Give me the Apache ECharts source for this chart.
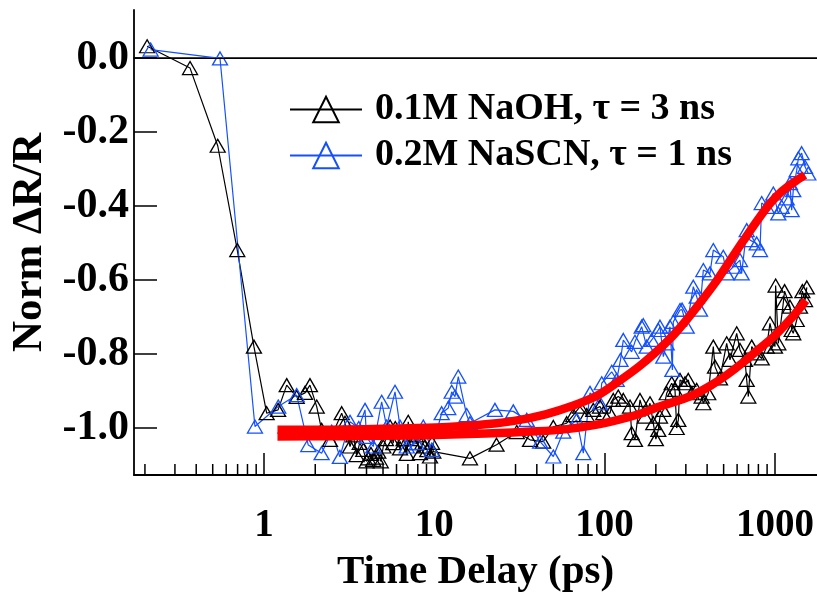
<!DOCTYPE html>
<html>
<head>
<meta charset="utf-8">
<script src="https://cdn.jsdelivr.net/npm/echarts@6/dist/echarts.min.js"></script>
<style>
  html, body { margin: 0; padding: 0; background: #ffffff; }
  #chart { width: 817px; height: 592px; }
</style>
</head>
<body>
<div id="chart"></div>
<script>
// Normalised reflectance transients: delay (ps) and ΔR/R for each solution.
const naohTime = [
  0.206, 0.368, 0.535, 0.697, 0.873, 1.037, 1.21, 1.36, 1.556, 1.741, 1.862, 2.04, 2.18, 2.44,
  2.86, 2.99, 3.2, 3.35, 3.5, 3.65, 3.83, 4.0, 4.1, 4.25, 4.38, 4.55, 4.69, 4.85, 5.02, 5.2,
  5.5, 5.74, 5.9, 6.29, 6.6, 6.9, 7.03, 7.3, 7.53, 7.8, 8.24, 8.5, 8.82, 9.1, 9.44, 9.7, 9.87,
  16.2, 23.2, 30.5, 36.5, 43.6, 50, 59.9, 65.5, 71.7, 78.5, 85.8, 94, 98.3, 107.6, 112.5,
  120.3, 128.8, 141, 144.2, 150.8, 161.4, 172.7, 184.8, 193.2, 200, 206.7, 211.5, 221.2,
  231.6, 247.8, 259.1, 265, 271, 277.3, 296.6, 310, 324.8, 347.5, 371.6, 380, 406, 434.9,
  444.9, 476, 521, 544.9, 596.6, 623.7, 667.5, 683, 698.2, 730.9, 782, 836.6, 895, 935.7,
  1001, 1010, 1047, 1120, 1140, 1226, 1255, 1282, 1343, 1404, 1450, 1503, 1540
];
const naohValue = [
  0.032, -0.027, -0.237, -0.519, -0.78, -0.96, -0.951, -0.884, -0.916, -0.905, -0.884, -0.942, -1.005, -1.032,
  -0.96, -0.986, -1.05, -1.02, -1.073, -1.04, -1.059, -1.09, -1.082, -1.07, -1.086, -1.08, -1.064, -1.09, -1.05, -1.03,
  -0.996, -1.041, -1.0, -1.055, -1.03, -1.07, -0.983, -1.03, -1.041, -1.02, -1.068, -1.04, -1.05, -1.06, -1.077, -1.04, -1.064,
  -1.082, -1.045, -1.011, -1.032, -1.037, -0.997, -0.987, -0.965, -0.942, -0.965, -0.951, -0.942, -0.96, -0.96, -0.924,
  -0.915, -0.924, -0.942, -1.014, -1.032, -0.924, -0.969, -0.933, -0.987, -1.03, -1.005, -0.969, -0.951,
  -0.906, -0.879, -0.897, -1.0, -0.978, -0.87, -0.879, -0.87, -0.906, -0.897, -0.915, -0.933, -0.906, -0.78,
  -0.834, -0.866, -0.771, -0.816, -0.744, -0.789, -0.816, -0.87, -0.915, -0.78, -0.798, -0.812, -0.78, -0.717,
  -0.78, -0.615, -0.771, -0.662, -0.63, -0.672, -0.735, -0.744, -0.708, -0.672, -0.63, -0.654, -0.62
];

const nascnTime = [
  0.216, 0.552, 0.885, 1.213, 1.556, 1.82, 2.18, 2.5, 2.79, 3.2, 3.6, 3.92, 4.0, 4.38, 4.91,
  5.25, 5.88, 6.29, 6.89, 7.88, 8.62, 9.65, 11.05, 12.08, 12.65, 13.23, 13.83, 15.5, 16.2,
  22.7, 29.1, 34.9, 41.8, 50, 57.2, 68.6, 75, 82.1, 94, 96.2, 110.1, 117.8, 124, 128.8,
  144.2, 150.8, 165.1, 168.8, 176.6, 189.1, 206.7, 211.5, 221.2, 231.6, 242.1, 250, 253.2,
  277.3, 285, 303.5, 331.8, 347.5, 363.3, 380, 415.6, 434.9, 497.6, 521, 570, 623.7, 638,
  683, 714, 782, 817.5, 836.6, 895, 979, 1047, 1096, 1173, 1226, 1255, 1282, 1343, 1373,
  1436, 1503, 1571
];
const nascnValue = [
  0.023, -0.001, -0.996, -0.942, -0.911, -1.046, -1.068, -1.01, -1.078, -0.983, -1.0, -0.951, -1.024, -1.05, -0.929,
  -0.996, -0.902, -0.996, -1.05, -1.041, -0.996, -1.059, -0.96, -0.946, -0.902, -0.915, -0.861, -0.965, -0.987,
  -0.951, -0.955, -0.978, -1.037, -1.077, -1.01, -0.978, -1.068, -0.905, -0.933, -0.879, -0.848, -0.87, -0.816, -0.762,
  -0.794, -0.767, -0.726, -0.722, -0.78, -0.762, -0.735, -0.726, -0.807, -0.771, -0.726, -0.843, -0.713,
  -0.681, -0.68, -0.726, -0.618, -0.645, -0.68, -0.573, -0.582, -0.519, -0.537, -0.582, -0.564, -0.546, -0.582,
  -0.465, -0.492, -0.501, -0.519, -0.392, -0.402, -0.366, -0.42, -0.402, -0.379, -0.338, -0.411, -0.357, -0.303, -0.271,
  -0.257, -0.294, -0.312
];

// Single-exponential recovery fits (τ = 1 ns and τ = 3 ns).
const fitFastTime  = [1.2, 2, 3, 5, 8, 12, 20, 30, 45, 65, 90, 120, 160, 200, 250, 300, 370, 450, 550, 650, 800, 950, 1100, 1300, 1500];
const fitFastValue = [-1.005, -1.005, -1.004, -1.002, -1.0, -0.997, -0.99, -0.98, -0.963, -0.94, -0.913, -0.875, -0.833, -0.795,
                      -0.752, -0.71, -0.657, -0.605, -0.545, -0.495, -0.435, -0.39, -0.36, -0.335, -0.316];
const fitSlowTime  = [1.2, 3, 8, 20, 40, 60, 85, 120, 160, 210, 270, 330, 420, 520, 650, 800, 1000, 1200, 1350, 1520];
const fitSlowValue = [-1.023, -1.022, -1.02, -1.015, -1.009, -1.003, -0.993, -0.978, -0.962, -0.942, -0.926, -0.911,
                      -0.885, -0.857, -0.823, -0.788, -0.75, -0.712, -0.685, -0.655];

// Axis ticks
const yTicks = [-1.0, -0.8, -0.6, -0.4, -0.2, 0.0];
const decadeTicks = [1, 10, 100, 1000];
const minorTicks = [0.2, 0.3, 0.4, 0.5, 0.6, 0.7, 0.8, 0.9,
                    2, 3, 4, 5, 6, 7, 8, 9,
                    20, 30, 40, 50, 60, 70, 80, 90,
                    200, 300, 400, 500, 600, 700, 800, 900];

const X_MIN = 0.1725, X_MAX = 1767;
const Y_MIN = -1.127, Y_MAX = 0.13;

const FONT = '"Liberation Serif", "Times New Roman", serif';
const zip = (a, b) => a.map((v, i) => [v, b[i]]);

const chart = echarts.init(document.getElementById('chart'), null, { renderer: 'canvas' });

const markerSeries = (name, color, t, v) => ({
  name: name,
  type: 'line',
  data: zip(t, v),
  symbol: 'triangle',
  symbolSize: [15, 13],
  showAllSymbol: true,
  itemStyle: { color: 'rgba(255,255,255,0)', borderColor: color, borderWidth: 1.3 },
  lineStyle: { color: color, width: 1.2 },
  emphasis: { disabled: true },
  z: 2
});

const fitSeries = (name, t, v) => ({
  name: name,
  type: 'line',
  data: zip(t, v),
  smooth: 0.3,
  symbol: 'none',
  lineStyle: { color: '#ff0000', width: 8.5, cap: 'butt', join: 'round' },
  emphasis: { disabled: true },
  z: 3
});

chart.setOption({
  animation: false,
  backgroundColor: '#ffffff',
  grid: { left: 134, right: 0, top: 10, bottom: 117, containLabel: false, outerBoundsMode: 'none' },
  legend: {
    data: ['0.1M NaOH, τ = 3 ns', '0.2M NaSCN, τ = 1 ns'],
    orient: 'vertical',
    left: 284,
    top: 85,
    itemWidth: 72,
    itemHeight: 32,
    itemGap: 7,
    selectedMode: false,
    textStyle: { fontFamily: FONT, fontWeight: 'bold', fontSize: 38, color: '#000', lineHeight: 39, padding: [0, 0, 0, 8] }
  },
  xAxis: [{
    type: 'log',
    logBase: 10,
    min: X_MIN,
    max: X_MAX,
    name: 'Time Delay (ps)',
    nameLocation: 'middle',
    nameGap: 77,
    nameTextStyle: { fontFamily: FONT, fontWeight: 'bold', fontSize: 41, color: '#000' },
    axisLine: { show: true, onZero: false, lineStyle: { color: '#000', width: 1.8 } },
    axisTick: { show: true, inside: true, length: 22, lineStyle: { color: '#000', width: 1.5 } },
    axisLabel: {
      margin: 31,
      fontFamily: FONT, fontWeight: 'bold', fontSize: 39, color: '#000',
      showMinLabel: false, showMaxLabel: false,
      formatter: (v) => decadeTicks.some(d => Math.abs(d - v) / d < 1e-6) ? String(Math.round(v)) : ''
    },
    splitLine: { show: false }
  }, {
    type: 'value',
    position: 'top',
    min: 0, max: 1,
    axisLine: { show: true, lineStyle: { color: '#000', width: 1.5 } },
    axisTick: { show: false },
    axisLabel: { show: false },
    splitLine: { show: false }
  }],
  yAxis: {
    type: 'value',
    min: Y_MIN,
    max: Y_MAX,
    name: 'Norm ΔR/R',
    nameLocation: 'middle',
    nameRotate: 90,
    nameGap: 80,
    nameTextStyle: { fontFamily: FONT, fontWeight: 'bold', fontSize: 43, color: '#000' },
    axisLine: { show: true, lineStyle: { color: '#000', width: 1.8 } },
    axisTick: { show: true, inside: true, length: 23, customValues: yTicks, lineStyle: { color: '#000', width: 1.5 } },
    axisLabel: {
      customValues: yTicks,
      margin: 5,
      fontFamily: FONT, fontWeight: 'bold', fontSize: 42, color: '#000',
      formatter: (v) => v.toFixed(1)
    },
    splitLine: { show: false }
  },
  series: [
    {
      // minor log ticks along the bottom axis
      type: 'custom',
      silent: true,
      clip: false,
      data: minorTicks.map(t => [t, Y_MIN]),
      encode: { x: 0, y: 1 },
      renderItem: (params, api) => {
        const p = api.coord([api.value(0), api.value(1)]);
        return {
          type: 'line',
          shape: { x1: p[0], y1: p[1], x2: p[0], y2: p[1] - 11 },
          style: { stroke: '#000', lineWidth: 1.5 }
        };
      },
      z: 1
    },
    Object.assign(markerSeries('0.1M NaOH, τ = 3 ns', '#000000', naohTime, naohValue), {
      markLine: {
        silent: true,
        symbol: 'none',
        label: { show: false },
        lineStyle: { color: '#000', width: 1.2, type: 'solid' },
        data: [{ yAxis: 0 }]
      }
    }),
    markerSeries('0.2M NaSCN, τ = 1 ns', '#1450ff', nascnTime, nascnValue),
    fitSeries('fit τ = 3 ns', fitSlowTime, fitSlowValue),
    fitSeries('fit τ = 1 ns', fitFastTime, fitFastValue)
  ]
});
</script>
</body>
</html>
